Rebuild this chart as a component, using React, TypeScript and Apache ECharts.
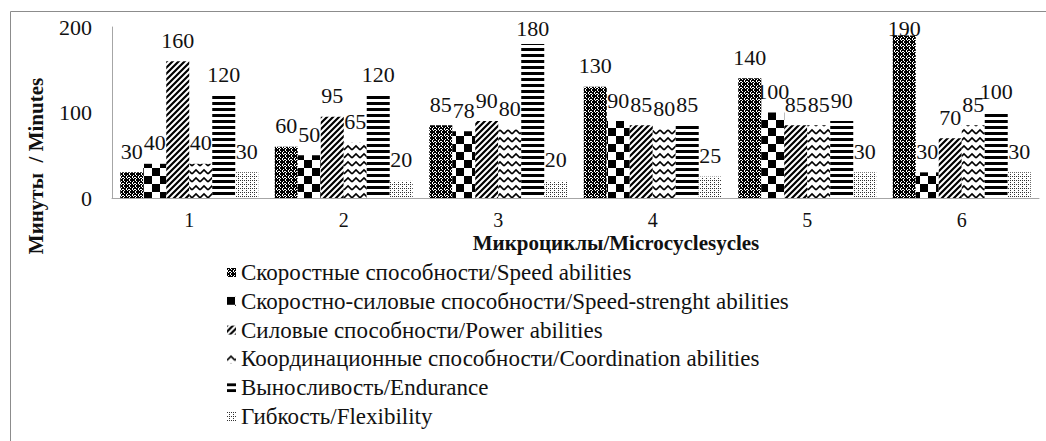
import React, { useEffect, useRef } from "react";
import * as echarts from "echarts";

const categories = ["1", "2", "3", "4", "5", "6"];
const seriesNames = [
  "Скоростные способности/Speed abilities",
  "Скоростно-силовые способности/Speed-strenght abilities",
  "Силовые способности/Power abilities",
  "Координационные способности/Coordination abilities",
  "Выносливость/Endurance",
  "Гибкость/Flexibility",
];
const speed = [30, 60, 85, 130, 140, 190];
const speedStrength = [40, 50, 78, 90, 100, 30];
const power = [160, 95, 90, 85, 85, 70];
const coordination = [40, 65, 80, 80, 85, 85];
const endurance = [120, 120, 180, 85, 90, 100];
const flexibility = [30, 20, 20, 25, 30, 30];
const yMin = 0;
const yMax = 200;
const yInterval = 100;

const FONT = "Liberation Serif";
const GRID_TOP = 27;
const GRID_BOTTOM_Y = 198;

function tile(w: number, h: number, draw: (c: CanvasRenderingContext2D) => void) {
  const cv = document.createElement("canvas");
  cv.width = w;
  cv.height = h;
  const c = cv.getContext("2d")!;
  c.fillStyle = "#fff";
  c.fillRect(0, 0, w, h);
  c.fillStyle = "#000";
  c.strokeStyle = "#000";
  draw(c);
  return { image: cv, repeat: "repeat", imageWidth: w, imageHeight: h } as any;
}

function makePatterns() {
  const p1 = tile(6, 6, (c) => {
    c.fillRect(0, 0, 6, 6);
    c.fillStyle = "#fff";
    c.fillRect(1, 1, 1, 1);
    c.fillRect(4, 4, 1, 1);
    c.fillRect(4, 1, 1, 1);
    c.fillRect(1, 4, 1, 1);
    c.fillRect(0, 2, 1, 2);
    c.fillRect(3, 0, 1, 1);
    c.fillRect(3, 5, 1, 1);
    c.fillRect(2, 3, 2, 1);
  });
  const p2 = tile(16, 16, (c) => {
    c.fillRect(0, 0, 8, 8);
    c.fillRect(8, 8, 8, 8);
  });
  const p3 = tile(6, 6, (c) => {
    c.lineWidth = 2.2;
    c.beginPath();
    c.moveTo(-1, 7);
    c.lineTo(7, -1);
    c.moveTo(-4, 4);
    c.lineTo(4, -4);
    c.moveTo(2, 10);
    c.lineTo(10, 2);
    c.stroke();
  });
  const p4 = tile(8, 8, (c) => {
    c.lineWidth = 1.6;
    c.beginPath();
    c.moveTo(0, 6);
    c.lineTo(4, 2);
    c.lineTo(8, 6);
    c.stroke();
  });
  const p5 = tile(4, 6, (c) => {
    c.fillRect(0, 0, 4, 3);
  });
  const p6 = tile(4, 4, (c) => {
    c.fillStyle = "#333";
    c.fillRect(0, 0, 1, 1);
    c.fillRect(2, 2, 1, 1);
    c.fillRect(2, 0, 1, 1);
  });
  return [p1, p2, p3, p4, p5, p6];
}

export default function App() {
  const ref = useRef<HTMLDivElement>(null);
  useEffect(() => {
    const chart = echarts.init(ref.current!, null, { renderer: "svg" });
    const patterns = makePatterns();
    const data = [speed, speedStrength, power, coordination, endurance, flexibility];
    const pxPerUnit = (GRID_BOTTOM_Y - GRID_TOP) / (yMax - yMin);
    chart.setOption({
      animation: false,
      backgroundColor: "#fff",
      textStyle: { fontFamily: FONT },
      grid: { left: 112, right: 7, top: GRID_TOP, bottom: 441 - GRID_BOTTOM_Y, containLabel: false },
      legend: {
        orient: "vertical",
        left: 222,
        top: 256,
        itemWidth: 9,
        itemHeight: 9,
        itemGap: 5.8,
        icon: "rect",
        textStyle: { fontFamily: FONT, fontSize: 23, color: "#111", lineHeight: 23 },
        data: seriesNames,
      },
      xAxis: {
        type: "category",
        data: categories,
        axisLine: { show: true, lineStyle: { color: "#a6a6a6", width: 1 } },
        axisTick: { show: false },
        axisLabel: { fontFamily: FONT, fontSize: 20, color: "#111", margin: 15, lineHeight: 14 },
      },
      yAxis: {
        type: "value",
        min: yMin,
        max: yMax,
        interval: yInterval,
        splitLine: { show: false },
        axisLine: { show: true, lineStyle: { color: "#a6a6a6", width: 1 } },
        axisTick: { show: false },
        axisLabel: { fontFamily: FONT, fontSize: 22, color: "#111", margin: 20 },
      },
      graphic: [
        {
          type: "rect",
          shape: { x: 10.5, y: 11.5, width: 1200, height: 600 },
          style: { fill: "none", stroke: "#8c8c8c", lineWidth: 1 },
          silent: true,
        },
        {
          type: "text",
          x: 616,
          y: 243,
          style: {
            text: "Микроциклы/Microcyclesycles",
            fontFamily: FONT,
            fontWeight: "bold",
            fontSize: 21,
            fill: "#111",
            align: "center",
            verticalAlign: "middle",
            lineHeight: 14,
          },
        },
        {
          type: "text",
          x: 36,
          y: 166,
          rotation: Math.PI / 2,
          style: {
            text: "Минуты  / Minutes",
            fontFamily: FONT,
            fontWeight: "bold",
            fontSize: 21,
            fill: "#111",
            align: "center",
            verticalAlign: "middle",
          },
        },
      ],
      series: data.map((d, i) => ({
        name: seriesNames[i],
        type: "bar",
        barGap: "0%",
        barCategoryGap: "10.7%",
        itemStyle: { color: patterns[i] },
        label: {
          show: true,
          position: "top",
          distance: 10,
          fontFamily: FONT,
          fontSize: 22,
          color: "#111",
          textBorderWidth: 0,
        },
        data: d.map((v) => {
          const barTop = GRID_BOTTOM_Y - v * pxPerUnit;
          const center = barTop - 21;
          const shift = center < 28 ? 28 - center : 0;
          return shift > 0 ? { value: v, label: { offset: [0, shift] } } : v;
        }),
      })),
    });
    return () => chart.dispose();
  }, []);
  return (
    <div
      ref={ref}
      style={{ position: "fixed", left: 0, top: 0, width: 1046, height: 441 }}
    />
  );
}
